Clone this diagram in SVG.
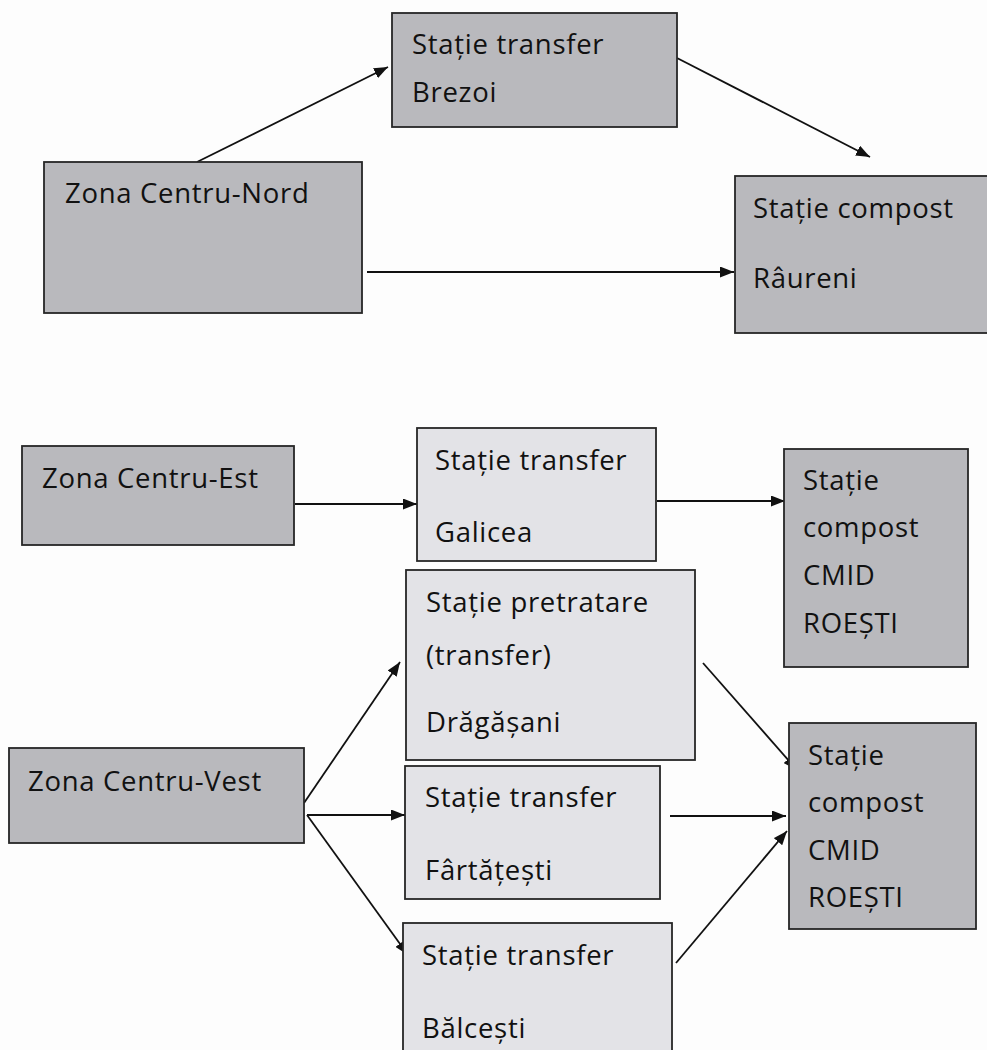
<svg xmlns="http://www.w3.org/2000/svg" width="987" height="1050" viewBox="0 0 987 1050">
<style>
.dark{fill:#b9b9bd;stroke:#262626;stroke-width:1.8}
.light{fill:#e3e3e7;stroke:#262626;stroke-width:1.8}
text{font-family:"Open Sans","Noto Sans","Liberation Sans",sans-serif;font-size:27.5px;letter-spacing:0.7px;fill:#111}
.c{fill:none;stroke:#111;stroke-width:1.8}
</style>
<defs>
<marker id="ah" viewBox="0 0 14 11" refX="14" refY="5.5" markerWidth="14" markerHeight="11" markerUnits="userSpaceOnUse" orient="auto">
<path d="M0,0 L14,5.5 L0,11 Z" fill="#111"/>
</marker>
</defs>
<rect width="987" height="1050" fill="#fdfdfd"/>
<g id="connectors">
<line class="c" x1="197" y1="162" x2="388" y2="67" marker-end="url(#ah)"/>
<line class="c" x1="677" y1="58" x2="870" y2="157" marker-end="url(#ah)"/>
<line class="c" x1="367" y1="272" x2="734" y2="272" marker-end="url(#ah)"/>
<line class="c" x1="295" y1="504" x2="417" y2="504" marker-end="url(#ah)"/>
<line class="c" x1="657" y1="501" x2="785" y2="501" marker-end="url(#ah)"/>
<line class="c" x1="304" y1="803" x2="400" y2="662" marker-end="url(#ah)"/>
<line class="c" x1="307" y1="815" x2="405" y2="815" marker-end="url(#ah)"/>
<line class="c" x1="307" y1="815" x2="408" y2="955" marker-end="url(#ah)"/>
<line class="c" x1="703" y1="663" x2="797" y2="770" marker-end="url(#ah)"/>
<line class="c" x1="670" y1="816" x2="786" y2="816" marker-end="url(#ah)"/>
<line class="c" x1="676" y1="963" x2="787" y2="831" marker-end="url(#ah)"/>
</g>
<g id="brezoi">
<rect class="dark" x="392" y="13" width="285" height="114"/>
<text x="412" y="54">Stație transfer</text>
<text x="412" y="102">Brezoi</text>
</g>
<g id="nord">
<rect class="dark" x="44" y="162" width="318" height="151"/>
<text x="65" y="203">Zona Centru-Nord</text>
</g>
<g id="raureni">
<rect class="dark" x="735" y="176" width="262" height="157"/>
<text x="753" y="218">Stație compost</text>
<text x="753" y="288">Râureni</text>
</g>
<g id="est">
<rect class="dark" x="22" y="446" width="272" height="99"/>
<text x="42" y="488">Zona Centru-Est</text>
</g>
<g id="galicea">
<rect class="light" x="417" y="428" width="239" height="133"/>
<text x="435" y="470">Stație transfer</text>
<text x="435" y="542">Galicea</text>
</g>
<g id="cmid1">
<rect class="dark" x="784" y="449" width="184" height="218"/>
<text x="803" y="490">Stație</text>
<text x="803" y="537">compost</text>
<text x="803" y="585">CMID</text>
<text x="803" y="633">ROEȘTI</text>
</g>
<g id="dragasani">
<rect class="light" x="406" y="570" width="289" height="190"/>
<text x="426" y="612">Stație pretratare</text>
<text x="426" y="665">(transfer)</text>
<text x="426" y="732">Drăgășani</text>
</g>
<g id="vest">
<rect class="dark" x="9" y="748" width="295" height="95"/>
<text x="28" y="791">Zona Centru-Vest</text>
</g>
<g id="fartatesti">
<rect class="light" x="405" y="766" width="255" height="133"/>
<text x="425" y="807">Stație transfer</text>
<text x="425" y="880">Fârtățești</text>
</g>
<g id="balcesti">
<rect class="light" x="403" y="923" width="269" height="140"/>
<text x="422" y="965">Stație transfer</text>
<text x="422" y="1038">Bălcești</text>
</g>
<g id="cmid2">
<rect class="dark" x="789" y="723" width="187" height="206"/>
<text x="808" y="765">Stație</text>
<text x="808" y="812">compost</text>
<text x="808" y="860">CMID</text>
<text x="808" y="907">ROEȘTI</text>
</g>
</svg>
